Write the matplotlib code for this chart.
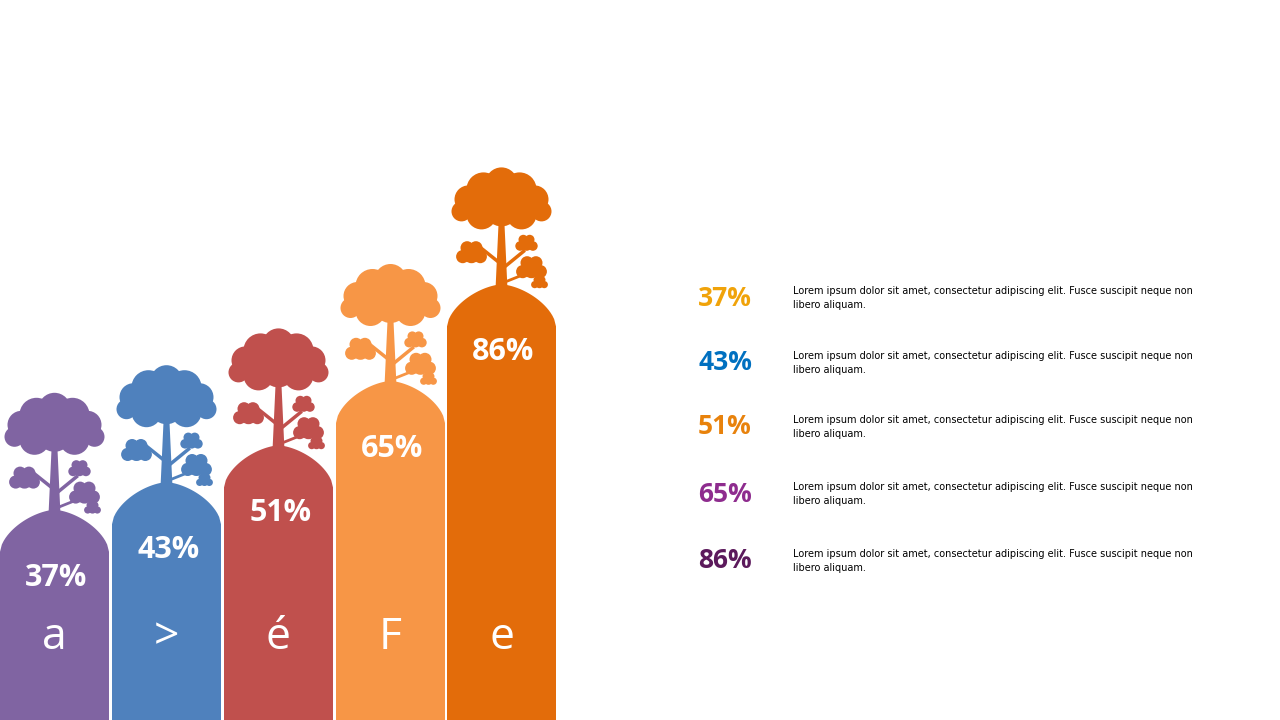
import matplotlib
matplotlib.use("Agg")
import matplotlib.pyplot as plt
from matplotlib.patches import Polygon, Circle
import numpy as np

categories = ["a", ">", "é", "F", "e"]
values = [37, 43, 51, 65, 86]
bar_colors = ["#8064A2", "#4F81BD", "#C0504D", "#F79646", "#E36C0A"]
legend_colors = ["#F0A30A", "#0070C0", "#E8820C", "#8E2C8E", "#5C1A5C"]
legend_text = "Lorem ipsum dolor sit amet, consectetur adipiscing elit. Fusce suscipit neque non\nlibero aliquam."

fig = plt.figure(figsize=(12.8, 7.2), dpi=100)
ax = fig.add_axes([0, 0, 1, 1])
ax.set_xlim(0, 1280); ax.set_ylim(720, 0); ax.axis("off")

def height(v):
    return 40 + v * 4.6

def tree(ax, cx, base, col):
    ax.add_patch(Polygon([(cx-6, base), (cx+6, base), (cx+3, base-65), (cx-3, base-65)], color=col, lw=0))
    ax.plot([cx, cx-25], [base-25, base-45], color=col, lw=2.5)
    ax.plot([cx, cx+22], [base-20, base-38], color=col, lw=2.5)
    ax.plot([cx+5, cx+30], [base-8, base-18], color=col, lw=2)
    crown = [(0, -80, 17), (-20, -75, 15), (20, -75, 15), (-33, -90, 14), (33, -90, 14),
             (-18, -100, 17), (18, -100, 17), (0, -106, 16), (-40, -78, 10), (40, -78, 10)]
    for dx, dy, r in crown:
        ax.add_patch(Circle((cx+dx, base+dy), r, color=col, lw=0))
    for (ox, oy, s) in [(-30, -35, 1.1), (25, -45, 0.8), (30, -20, 1.1), (38, -6, 0.6)]:
        for dx, dy, r in [(0, 0, 8), (-8, 2, 6), (8, 2, 6), (-4, -6, 6), (4, -6, 6)]:
            ax.add_patch(Circle((cx+ox+dx*s, base+oy+dy*s), r*s, color=col, lw=0))

x0s = [0, 112, 224, 336, 447]
w = 109
for i, (c, v, col) in enumerate(zip(categories, values, bar_colors)):
    x0 = x0s[i]; x1 = x0 + w
    peak = 720 - height(v)
    ys = peak + 42
    t = np.linspace(0, 1, 60)
    xs = x0 + t * w
    u = np.abs(2 * t - 1)
    ytop = ys - 42 * (1 - u**1.6) ** 0.6
    pts = [(x0, 720)] + list(zip(xs, ytop)) + [(x1, 720)]
    ax.add_patch(Polygon(pts, color=col, lw=0))
    tree(ax, x0 + w/2, peak + 5, col)
    ax.text(x0 + w/2 + 2, peak + 68, f"{v}%", color="white", fontsize=22, fontweight="bold",
            ha="center", va="center", family="Open Sans")
    ax.text(x0 + w/2, 638, c, color="white", fontsize=32, ha="center", va="center", family="Open Sans")

ly = [298, 363, 427, 494, 561]
for v, col, y in zip(values, legend_colors, ly):
    ax.text(725, y, f"{v}%", color=col, fontsize=19, fontweight="bold", ha="center", va="center",
            family="Open Sans")
    ax.text(793, y, legend_text, color="black", fontsize=7.0, ha="left", va="center", linespacing=1.4)

fig.savefig("out.png", dpi=100)
